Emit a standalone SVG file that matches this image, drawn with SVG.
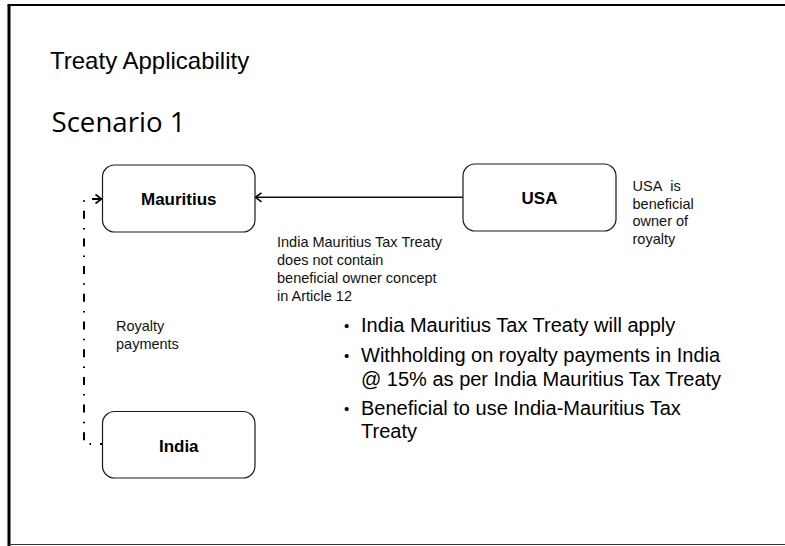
<svg xmlns="http://www.w3.org/2000/svg" width="785" height="546" viewBox="0 0 785 546">
  <style>
    .box { fill: #ffffff; stroke: #1a1a1a; stroke-width: 1.2; }
    .label { font-family: "Liberation Sans", Arial, sans-serif; font-weight: bold; font-size: 17px; fill: #000; text-anchor: middle; }
    .note { font-family: "Liberation Sans", Arial, sans-serif; font-size: 14.5px; fill: #111; }
    .bullet { font-family: "Liberation Sans", Arial, sans-serif; font-size: 20px; fill: #000; }
    .dot { font-family: "Liberation Sans", Arial, sans-serif; font-size: 15px; fill: #000; }
    .title { font-family: "Liberation Sans", Arial, sans-serif; font-size: 24px; fill: #000; }
    .heading { font-family: "Open Sans", "Liberation Sans", sans-serif; font-size: 28px; fill: #000; }
    .flow { fill: none; stroke: #111; stroke-width: 1.6; }
    .payment { fill: none; stroke: #000; stroke-width: 2; stroke-dasharray: 8 9 1.5 9.2; stroke-dashoffset: 6; }
  </style>
  <defs>
    <marker id="chevron" markerUnits="userSpaceOnUse" markerWidth="14" markerHeight="14" viewBox="-8 -7 14 14" refX="0" refY="0" orient="auto">
      <path d="M-6,-4.5 L0,0 L-6,4.5" fill="none" stroke="#000" stroke-width="1.6"/>
    </marker>
  </defs>

  <!-- slide frame -->
  <rect x="0" y="0" width="785" height="546" fill="#ffffff"/>
  <path d="M9 546 V5" stroke="#000" stroke-width="3" fill="none"/>
  <path d="M7.5 5 H785" stroke="#000" stroke-width="2" fill="none"/>
  <path d="M9 544.5 H785" stroke="#333" stroke-width="1.2" fill="none"/>

  <text class="title" x="50" y="69">Treaty Applicability</text>
  <text class="heading" x="51.5" y="131.5" textLength="134" lengthAdjust="spacingAndGlyphs">Scenario 1</text>

  <!-- connectors -->
  <g id="connectors">
    <path class="flow" d="M463 197.3 H255.5" marker-end="url(#chevron)"/>
    <path class="payment" d="M102 444 H84 V199 H101.5" marker-end="url(#chevron)"/>
  </g>

  <!-- nodes -->
  <g id="mauritius">
    <rect class="box" x="102.5" y="165" width="152.5" height="67" rx="12" ry="12"/>
    <text class="label" x="178.75" y="204.5">Mauritius</text>
  </g>
  <g id="usa">
    <rect class="box" x="463" y="164" width="153" height="67" rx="12" ry="12"/>
    <text class="label" x="539.5" y="204">USA</text>
  </g>
  <g id="india">
    <rect class="box" x="102.5" y="411.5" width="152.5" height="66.5" rx="12" ry="12"/>
    <text class="label" x="178.75" y="451.5">India</text>
  </g>

  <!-- annotations -->
  <g id="usa-note">
    <text class="note" x="632.5" y="191">USA&#160; is</text>
    <text class="note" x="632.5" y="208.5">beneficial</text>
    <text class="note" x="632.5" y="226">owner of</text>
    <text class="note" x="632.5" y="243.5">royalty</text>
  </g>
  <g id="treaty-note">
    <text class="note" x="277" y="247">India Mauritius Tax Treaty</text>
    <text class="note" x="277" y="265">does not contain</text>
    <text class="note" x="277" y="283">beneficial owner concept</text>
    <text class="note" x="277" y="301">in Article 12</text>
  </g>
  <g id="payment-note">
    <text class="note" x="116" y="331">Royalty</text>
    <text class="note" x="116" y="349">payments</text>
  </g>

  <g id="conclusions">
    <text class="dot" x="344" y="331">•</text>
    <text class="bullet" x="361" y="332">India Mauritius Tax Treaty will apply</text>
    <text class="dot" x="344" y="361">•</text>
    <text class="bullet" x="361" y="362">Withholding on royalty payments in India</text>
    <text class="bullet" x="361" y="385.5">@ 15% as per India Mauritius Tax Treaty</text>
    <text class="dot" x="344" y="413.5">•</text>
    <text class="bullet" x="361" y="414.5">Beneficial to use India-Mauritius Tax</text>
    <text class="bullet" x="361" y="438">Treaty</text>
  </g>
</svg>
